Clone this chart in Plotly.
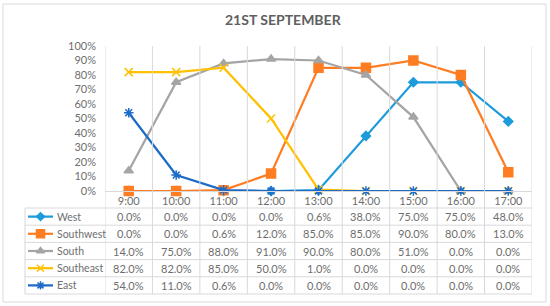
import plotly.graph_objects as go

# ---- data ----
times = ["9:00", "10:00", "11:00", "12:00", "13:00", "14:00", "15:00", "16:00", "17:00"]
west = [0.0, 0.0, 0.0, 0.0, 0.6, 38.0, 75.0, 75.0, 48.0]
southwest = [0.0, 0.0, 0.6, 12.0, 85.0, 85.0, 90.0, 80.0, 13.0]
south = [14.0, 75.0, 88.0, 91.0, 90.0, 80.0, 51.0, 0.0, 0.0]
southeast = [82.0, 82.0, 85.0, 50.0, 1.0, 0.0, 0.0, 0.0, 0.0]
east = [54.0, 11.0, 0.6, 0.0, 0.0, 0.0, 0.0, 0.0, 0.0]
series_names = ["West", "Southwest", "South", "Southeast", "East"]
series_values = [west, southwest, south, southeast, east]
y_ticks = [0, 10, 20, 30, 40, 50, 60, 70, 80, 90, 100]
title_text = "21ST SEPTEMBER"

# ---- styles ----
W, H = 550, 306
FONT = "Lato"
TXT = "#6E6E6E"
TITLE_C = "#606060"
GRID = "#D9D9D9"
styles = [
    dict(color="#1E9BDB", symbol="diamond", size=7),
    dict(color="#FF7D22", symbol="square", size=9),
    dict(color="#A5A5A5", symbol="triangle-up", size=8),
    dict(color="#FFC000", symbol="x-thin-open", size=8),
    dict(color="#1C6BC7", symbol="asterisk-open", size=8),
]

def px(x):
    return x / W

def py(y):
    return 1 - y / H

PLOT_L, PLOT_R, PLOT_T, PLOT_B = 105, 532, 46, 191
TABLE_L, TABLE_T, TABLE_B = 25, 208, 294
ROW_H = (TABLE_B - TABLE_T) / len(series_names)

fig = go.Figure()
xs = list(range(len(times)))

for name, vals, st in zip(series_names, series_values, styles):
    fig.add_trace(go.Scatter(
        x=xs, y=[v / 100 for v in vals], mode="lines+markers", name=name,
        line=dict(color=st["color"], width=2.25),
        marker=dict(symbol=st["symbol"], size=st["size"], color=st["color"],
                    line=dict(color=st["color"], width=1.5)),
        cliponaxis=False, showlegend=False, xaxis="x", yaxis="y",
    ))

# legend icons inside table (pixel overlay axis)
for i, st in enumerate(styles):
    yc = TABLE_T + ROW_H * (i + 0.5)
    fig.add_trace(go.Scatter(
        x=[28, 53], y=[yc, yc], mode="lines", line=dict(color=st["color"], width=2.25),
        showlegend=False, xaxis="x2", yaxis="y2", hoverinfo="skip", cliponaxis=False))
    fig.add_trace(go.Scatter(
        x=[40.5], y=[yc], mode="markers",
        marker=dict(symbol=st["symbol"], size=st["size"] - 1, color=st["color"],
                    line=dict(color=st["color"], width=1.5)),
        showlegend=False, xaxis="x2", yaxis="y2", hoverinfo="skip", cliponaxis=False))

shapes = []
shapes.append(dict(type="rect", xref="paper", yref="paper", x0=px(3), x1=px(546),
                   y0=py(302), y1=py(4), line=dict(color=GRID, width=1)))
for k in range(len(times) + 1):
    shapes.append(dict(type="line", xref="x", yref="paper", x0=k - 0.5, x1=k - 0.5,
                       y0=py(TABLE_B), y1=py(PLOT_T), line=dict(color=GRID, width=1)))
for r in range(len(series_names) + 1):
    yy = TABLE_T + ROW_H * r
    shapes.append(dict(type="line", xref="paper", yref="paper", x0=px(TABLE_L), x1=px(PLOT_R),
                       y0=py(yy), y1=py(yy), line=dict(color=GRID, width=1)))
shapes.append(dict(type="line", xref="paper", yref="paper", x0=px(TABLE_L), x1=px(TABLE_L),
                   y0=py(TABLE_T), y1=py(TABLE_B), line=dict(color=GRID, width=1)))

annotations = []
annotations.append(dict(text="<b>" + title_text + "</b>", xref="paper", yref="paper",
                        x=px(283), y=py(20), xanchor="center", yanchor="middle", showarrow=False,
                        font=dict(family=FONT, size=14, color=TITLE_C)))
for i, (name, vals) in enumerate(zip(series_names, series_values)):
    yc = TABLE_T + ROW_H * (i + 0.5)
    annotations.append(dict(text=name, xref="paper", yref="paper", x=px(55), y=py(yc),
                            xanchor="left", yanchor="middle", showarrow=False,
                            font=dict(family=FONT, size=10.5, color=TXT)))
    for j, v in enumerate(vals):
        annotations.append(dict(text=f"{v:.1f}%", xref="x", yref="paper", x=j, y=py(yc),
                                xanchor="center", yanchor="middle", showarrow=False,
                                font=dict(family=FONT, size=11, color=TXT)))

fig.update_layout(
    width=W, height=H, margin=dict(l=0, r=0, t=0, b=0, pad=0, autoexpand=False),
    paper_bgcolor="white", plot_bgcolor="rgba(0,0,0,0)",
    showlegend=False, shapes=shapes, annotations=annotations,
    xaxis=dict(domain=[px(PLOT_L), px(PLOT_R)], range=[-0.5, len(times) - 0.5],
               tickvals=xs, ticktext=times, showgrid=False, zeroline=False,
               showline=True, linecolor=GRID, linewidth=1, ticks="", automargin=False,
               anchor="y", tickfont=dict(family=FONT, size=11, color=TXT), fixedrange=True),
    yaxis=dict(domain=[py(PLOT_B), py(PLOT_T)], range=[0, 1], anchor="x",
               tickvals=[t / 100 for t in y_ticks], ticktext=[f"{t}%" for t in y_ticks],
               showgrid=False, zeroline=False, showline=False, ticks="", automargin=False,
               ticklabelstandoff=8,
               tickfont=dict(family=FONT, size=11, color=TXT), fixedrange=True),
    xaxis2=dict(domain=[0, 1], range=[0, W], visible=False, anchor="y2",
                automargin=False, fixedrange=True),
    yaxis2=dict(domain=[0, 1], range=[H, 0], visible=False, anchor="x2",
                automargin=False, fixedrange=True),
)

fig.write_html("out.html", config={"displayModeBar": False},
               post_script="document.body.style.margin='0';document.body.style.overflow='hidden';")
